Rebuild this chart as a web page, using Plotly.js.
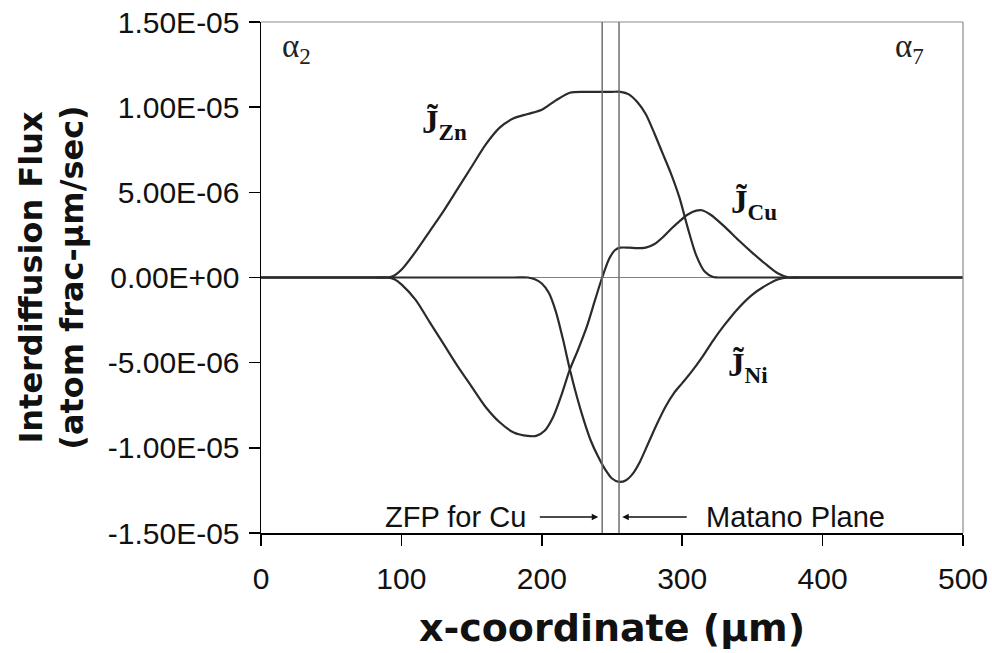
<!DOCTYPE html>
<html>
<head>
<meta charset="utf-8">
<script src="https://cdn.plot.ly/plotly-3.0.1.min.js"></script>
<style>html,body{margin:0;padding:0;background:#fff;}#chart{width:992px;height:653px;}</style>
</head>
<body>
<div id="chart"></div>
<script>
// ---- data (flux values in units of 1e-6 atom frac-µm/sec) ----
const znX = [0, 80, 90, 95, 100, 110, 120, 130, 140, 150, 160, 170, 180, 190, 200, 210, 220, 230, 240, 250, 256, 262, 268, 274, 280, 286, 292, 298, 304, 310, 316, 322, 330, 500];
const znY = [0, 0, 0, 0.12, 0.45, 1.5, 2.7, 3.9, 5.2, 6.5, 7.8, 8.8, 9.35, 9.6, 9.85, 10.4, 10.85, 10.9, 10.9, 10.9, 10.9, 10.75, 10.3, 9.6, 8.5, 7.3, 6.1, 4.7, 2.9, 1.3, 0.35, 0.03, 0, 0];

const cuX = [0, 80, 90, 95, 100, 110, 120, 130, 140, 150, 160, 170, 180, 190, 196, 202, 208, 214, 220, 226, 232, 238, 243, 248, 252, 256, 262, 268, 274, 280, 286, 292, 298, 304, 310, 314, 320, 330, 340, 350, 360, 368, 376, 385, 500];
const cuY = [0, 0, 0, -0.1, -0.4, -1.3, -2.6, -3.9, -5.2, -6.4, -7.6, -8.5, -9.1, -9.3, -9.3, -9.0, -8.2, -6.9, -5.4, -4.2, -2.9, -1.3, 0, 1.1, 1.6, 1.75, 1.75, 1.72, 1.75, 1.95, 2.35, 2.85, 3.3, 3.7, 3.93, 3.95, 3.7, 3.0, 2.2, 1.45, 0.75, 0.25, 0, 0, 0];

const niX = [0, 180, 190, 195, 200, 205, 210, 215, 220, 225, 230, 235, 240, 245, 250, 255, 260, 265, 270, 276, 282, 288, 294, 300, 306, 314, 322, 330, 340, 350, 360, 368, 376, 385, 500];
const niY = [0, 0, 0, -0.1, -0.35, -0.9, -2.0, -3.6, -5.4, -7.0, -8.4, -9.6, -10.5, -11.25, -11.8, -12.0, -11.9, -11.5, -10.8, -9.7, -8.6, -7.6, -6.8, -6.2, -5.6, -4.7, -3.7, -2.8, -1.8, -1.0, -0.45, -0.12, 0, 0, 0];

const planeX = [243, 255];           // ZFP for Cu, Matano plane
const yTickVals = [15, 10, 5, 0, -5, -10, -15];
const yTickText = ["1.50E-05", "1.00E-05", "5.00E-06", "0.00E+00", "-5.00E-06", "-1.00E-05", "-1.50E-05"];
const xTickVals = [0, 100, 200, 300, 400, 500];

const SCALE = 1e-6;
const scale = a => a.map(v => v * SCALE);

const lineStyle = {color: '#2b2b2b', width: 2.2, shape: 'spline', smoothing: 0.8};
const traces = [
  {x: znX, y: scale(znY), mode: 'lines', line: lineStyle, name: 'J Zn', hoverinfo: 'skip'},
  {x: cuX, y: scale(cuY), mode: 'lines', line: lineStyle, name: 'J Cu', hoverinfo: 'skip'},
  {x: niX, y: scale(niY), mode: 'lines', line: lineStyle, name: 'J Ni', hoverinfo: 'skip'}
];

const sans = 'Liberation Sans, Arial, sans-serif';
const serif = 'Liberation Serif, Times New Roman, serif';
const titleFont = 'DejaVu Sans, Verdana, sans-serif';

const shapes = [
  {type: 'line', xref: 'paper', yref: 'paper', x0: 0, x1: 1, y0: 1, y1: 1, line: {color: '#8c8c8c', width: 1.2}},
  {type: 'line', xref: 'paper', yref: 'paper', x0: 1, x1: 1, y0: 0, y1: 1, line: {color: '#8c8c8c', width: 1.2}}
].concat(planeX.map(px => ({type: 'line', xref: 'x', yref: 'paper', x0: px, x1: px, y0: 0, y1: 1, line: {color: '#6e6e6e', width: 1.5}})));

const arrowY = -14.06 * SCALE;
function jLabel(x, y, sub) {
  return {xref: 'x', yref: 'y', x: x, y: y * SCALE, xanchor: 'left', yanchor: 'middle', showarrow: false,
          text: '<b>J\u0303<sub>' + sub + '</sub></b>', font: {family: serif, size: 33, color: '#111'}};
}
const annotations = [
  {xref: 'paper', yref: 'paper', x: 0.027, y: 0.949, xanchor: 'left', yanchor: 'middle', showarrow: false,
   text: 'α<sub>2</sub>', font: {family: serif, size: 33, color: '#222'}},
  {xref: 'paper', yref: 'paper', x: 0.947, y: 0.949, xanchor: 'right', yanchor: 'middle', showarrow: false,
   text: 'α<sub>7</sub>', font: {family: serif, size: 33, color: '#222'}},
  {xref: 'x', yref: 'y', x: 138.7, y: arrowY, xanchor: 'center', yanchor: 'middle', showarrow: false,
   text: 'ZFP for Cu', font: {family: sans, size: 29, color: '#111'}},
  {xref: 'x', yref: 'y', x: 380.4, y: arrowY, xanchor: 'center', yanchor: 'middle', showarrow: false,
   text: 'Matano Plane', font: {family: sans, size: 29, color: '#111'}},
  {xref: 'x', yref: 'y', x: 240.2, y: arrowY, axref: 'x', ayref: 'y', ax: 197.5, ay: arrowY, text: '',
   showarrow: true, arrowhead: 2, arrowsize: 1, arrowwidth: 1.3, arrowcolor: '#111'},
  {xref: 'x', yref: 'y', x: 257.3, y: arrowY, axref: 'x', ayref: 'y', ax: 304.3, ay: arrowY, text: '',
   showarrow: true, arrowhead: 2, arrowsize: 1, arrowwidth: 1.3, arrowcolor: '#111'},
  jLabel(113, 9.0, 'Zn'),
  jLabel(333, 4.3, 'Cu'),
  jLabel(331, -5.3, 'Ni')
];

const layout = {
  width: 992, height: 653,
  margin: {l: 261, r: 29, t: 22, b: 120, pad: 0},
  paper_bgcolor: '#ffffff', plot_bgcolor: '#ffffff',
  showlegend: false,
  font: {family: sans, color: '#111'},
  xaxis: {
    range: [0, 500], tickvals: xTickVals, ticks: 'outside', ticklen: 11, tickwidth: 1.5, tickcolor: '#000',
    ticklabelstandoff: 7,
    showline: true, linecolor: '#000', linewidth: 1.5, showgrid: false, zeroline: false,
    tickfont: {family: sans, size: 30, color: '#111'},
    title: {text: 'x-coordinate (µm)', font: {family: titleFont, size: 38, weight: 'bold', color: '#111'}, standoff: 21}
  },
  yaxis: {
    range: [-15 * SCALE, 15 * SCALE], tickvals: scale(yTickVals), ticktext: yTickText,
    ticks: 'outside', ticklen: 11, tickwidth: 1.5, tickcolor: '#000',
    ticklabelstandoff: 3,
    showline: true, linecolor: '#000', linewidth: 1.5, showgrid: false,
    zeroline: true, zerolinecolor: '#808080', zerolinewidth: 1.5,
    tickfont: {family: sans, size: 30, color: '#111'},
    title: {text: 'Interdiffusion Flux<br>(atom frac-µm/sec)', font: {family: titleFont, size: 32, weight: 'bold', color: '#111'}, standoff: 14}
  },
  shapes: shapes,
  annotations: annotations
};

Plotly.newPlot('chart', traces, layout, {staticPlot: true, displayModeBar: false});
</script>
</body>
</html>
